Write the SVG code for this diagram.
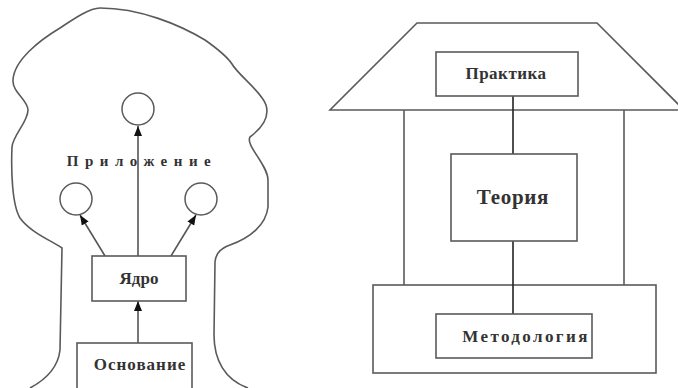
<svg xmlns="http://www.w3.org/2000/svg" width="678" height="388" viewBox="0 0 678 388">
<defs>
<style>
.outline{fill:none;stroke:#5a5a5a;stroke-width:1.6}
.box{fill:#fff;stroke:#5a5a5a;stroke-width:1.6}
.circ{fill:#fff;stroke:#5a5a5a;stroke-width:1.5}
.con{fill:none;stroke:#555;stroke-width:1.6}
.conk{fill:none;stroke:#222;stroke-width:1.6}
.lbl{font-family:"Liberation Serif","Times New Roman",serif;font-weight:bold;fill:#333;text-anchor:middle}
</style>
<marker id="arr" markerUnits="userSpaceOnUse" markerWidth="10" markerHeight="10" viewBox="0 0 10 10" refX="10" refY="5" orient="auto">
<path d="M0,1 L10,5 L0,9 Z" fill="#111"/>
</marker>
</defs>
<rect width="678" height="388" fill="#fff"/>

<g id="tree">
<path class="outline" d="M 30 388 C 45 380, 58 368, 60 350 L 62 248 C 50 240, 30 232, 20 218 C 12 205, 11 170, 12 147 C 13 135, 28 122, 28 110 C 28 100, 12 92, 13 80 C 14 60, 40 40, 60 28 C 75 18, 90 8, 100 8 C 140 8, 180 25, 205 40 C 222 52, 228 58, 232 64 C 238 75, 262 92, 266 105 C 270 118, 262 128, 250 137 C 245 145, 268 165, 268 180 L 268 207 C 266 225, 250 238, 230 245 C 222 248, 216 252, 215 262 L 214 335 C 214 360, 225 380, 248 388"/>
</g>

<g id="roof">
<polygon class="outline" points="417,23 597,23 684,110 330,110"/>
</g>
<g id="pillars">
<line class="outline" x1="404" y1="110" x2="404" y2="285"/>
<line class="outline" x1="624" y1="110" x2="624" y2="285"/>
</g>
<g id="base">
<rect class="box" x="373" y="285" width="283" height="88"/>
</g>

<g id="connectors">
<line class="con" x1="138" y1="256" x2="138" y2="126" marker-end="url(#arr)"/>
<line class="con" x1="105" y1="256" x2="80" y2="215" marker-end="url(#arr)"/>
<line class="con" x1="171" y1="256" x2="196" y2="215" marker-end="url(#arr)"/>
<line class="con" x1="138" y1="343" x2="138" y2="301" marker-end="url(#arr)"/>
<line class="conk" x1="513" y1="96" x2="513" y2="154"/>
<line class="conk" x1="513" y1="241" x2="513" y2="314"/>
</g>

<g id="circle-top"><circle class="circ" cx="138" cy="109" r="16"/></g>
<g id="circle-left"><circle class="circ" cx="76" cy="199" r="16"/></g>
<g id="circle-right"><circle class="circ" cx="201" cy="199" r="16"/></g>

<g id="label-prilozhenie">
<text class="lbl" x="142" y="166" font-size="15" letter-spacing="6.5">Приложение</text>
</g>

<g id="node-yadro">
<rect class="box" x="92" y="256" width="94" height="45"/>
<text class="lbl" x="139" y="284" font-size="17">Ядро</text>
</g>

<g id="node-osnovanie">
<rect class="box" x="77" y="343" width="115" height="50"/>
<text class="lbl" x="140" y="370" font-size="17" letter-spacing="1">Основание</text>
</g>

<g id="node-praktika">
<rect class="box" x="436" y="52" width="142" height="44"/>
<text class="lbl" x="506" y="79" font-size="17" letter-spacing="0.5">Практика</text>
</g>

<g id="node-teoriya">
<rect class="box" x="451" y="154" width="126" height="87"/>
<text class="lbl" x="513" y="204" font-size="21" letter-spacing="0.7">Теория</text>
</g>

<g id="node-metodologiya">
<rect class="box" x="436" y="314" width="156" height="44"/>
<text class="lbl" x="526" y="342" font-size="17" letter-spacing="2.4">Методология</text>
</g>
</svg>
